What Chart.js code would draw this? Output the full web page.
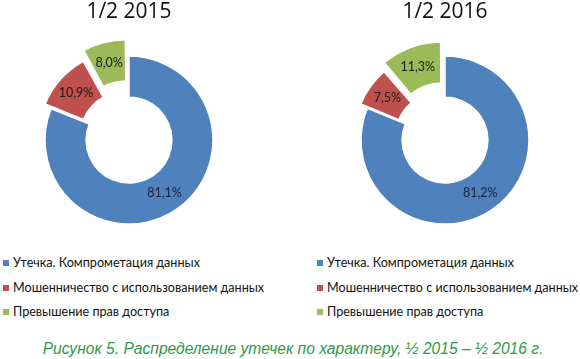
<!DOCTYPE html>
<html>
<head>
<meta charset="utf-8">
<script src="https://cdn.jsdelivr.net/npm/chart.js@4.4.1/dist/chart.umd.min.js"></script>
<style>
  html, body { margin: 0; padding: 0; background: #fff; }
  #wrap { position: relative; width: 580px; height: 359px; overflow: hidden; }
  .chartBox { position: absolute; top: -1px; width: 258px; height: 251px; }
  .legend { position: absolute; top: 254px; font-family: Lato, "Noto Sans", sans-serif; font-size: 12.6px; color: #111; }
  .legend-item { height: 24.5px; line-height: 18px; white-space: nowrap; }
  .legend-color { display: inline-block; width: 6px; height: 6px; margin-right: 4px; vertical-align: 1px; }
  #caption { position: absolute; left: 0; width: 586px; top: 340px; text-align: center;
    font-family: "Liberation Sans", Arial, sans-serif; font-style: italic; font-size: 15.6px; color: #2f9a45; }
</style>
</head>
<body>
<div id="wrap">
  <div class="chartBox" style="left:0px"><canvas id="chart2015"></canvas></div>
  <div class="chartBox" style="left:316px"><canvas id="chart2016"></canvas></div>
  <div class="legend" id="legend2015" style="left:3px"></div>
  <div class="legend" id="legend2016" style="left:317px"></div>
  <div id="caption">Рисунок 5. Распределение утечек по характеру, ½ 2015 – ½ 2016 г.</div>
</div>
<script>
// Kategori kebocoran
const categories = [
  'Утечка. Компрометация данных',
  'Мошенничество с использованием данных',
  'Превышение прав доступа'
];

// Nilai per periode (%)
const values2015 = [81.1, 10.9, 8.0];
const values2016 = [81.2, 7.5, 11.3];

const titles = ['1/2 2015', '1/2 2016'];

// Warna ala Office
const sliceColors = ['#4F81BD', '#C0504D', '#9BBB59'];

// Plugin label persentase di dalam irisan
const sliceLabels = {
  id: 'sliceLabels',
  afterDatasetsDraw(chart) {
    const ctx = chart.ctx;
    const meta = chart.getDatasetMeta(0);
    const data = chart.data.datasets[0].data;
    ctx.save();
    ctx.font = '12.5px Lato, "Noto Sans", sans-serif';
    ctx.textAlign = 'center';
    ctx.textBaseline = 'middle';
    meta.data.forEach((arc, i) => {
      const p = arc.getProps(['x', 'y', 'startAngle', 'endAngle', 'innerRadius', 'outerRadius']);
      const mid = (p.startAngle + p.endAngle) / 2;
      // Chart.js menggambar offset dibagi 4, plus sedikit pelebaran radius
      const shift = (arc.options.offset || 0) / 4;
      const fix = 1 - Math.sin(Math.min(Math.PI, p.endAngle - p.startAngle));
      const r = (p.innerRadius + p.outerRadius) / 2 + shift * (1 + fix);
      ctx.fillStyle = i === 0 ? '#1c2340' : '#1a1a1a';
      ctx.fillText(data[i].toFixed(1).replace('.', ',') + '%', p.x + Math.cos(mid) * r, p.y + Math.sin(mid) * r);
    });
    ctx.restore();
  }
};

function makeChart(id, title, values, offsets) {
  const ctx = document.getElementById(id).getContext('2d');
  return new Chart(ctx, {
    type: 'doughnut',
    data: {
      labels: categories,
      datasets: [{
        data: values,
        backgroundColor: sliceColors,
        borderColor: '#ffffff',
        borderWidth: 1.5,
        offset: offsets,
        hoverOffset: 0
      }]
    },
    options: {
      responsive: true,
      maintainAspectRatio: false,
      animation: false,
      radius: 84,
      cutout: '51%',
      layout: { padding: { top: 0, bottom: 3, left: 0, right: 0 } },
      plugins: {
        legend: { display: false },
        tooltip: { enabled: false },
        title: {
          display: true,
          text: title,
          color: '#111',
          font: { family: '"Open Sans", Lato, sans-serif', size: 21, weight: 'normal' },
          padding: { top: 0, bottom: 9 }
        }
      }
    },
    plugins: [sliceLabels]
  });
}

function makeLegend(id) {
  let html = '';
  categories.forEach((label, index) => {
    html += `<div class="legend-item"><span class="legend-color" style="background-color:${sliceColors[index]}"></span>${label}</div>`;
  });
  document.getElementById(id).innerHTML = html;
}

makeChart('chart2015', titles[0], values2015, [0, 22, 44]);
makeChart('chart2016', titles[1], values2016, [0, 20, 44]);
makeLegend('legend2015');
makeLegend('legend2016');
</script>
</body>
</html>
